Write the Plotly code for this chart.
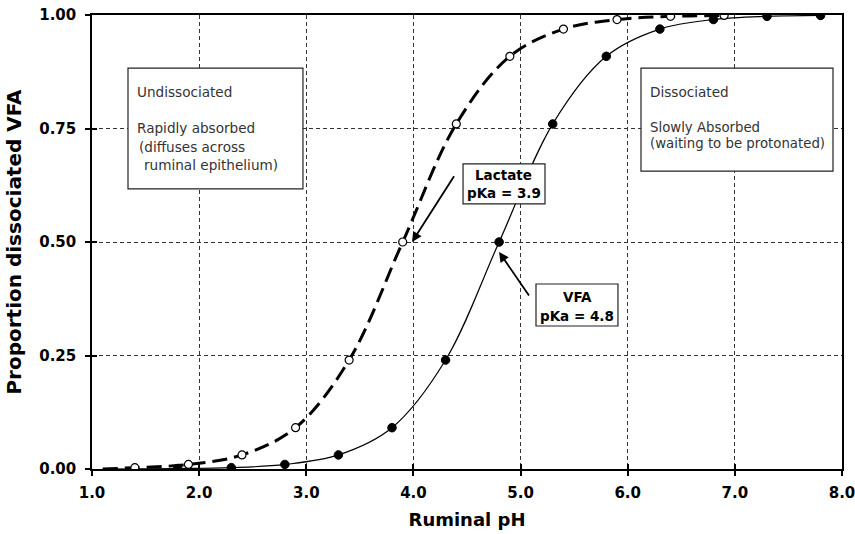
import plotly.graph_objects as go

# ---- data ----
vfa_ph = [1.8, 2.3, 2.8, 3.3, 3.8, 4.3, 4.8, 5.3, 5.8, 6.3, 6.8, 7.3, 7.8]
vfa_prop = [0.001, 0.003, 0.010, 0.031, 0.091, 0.24, 0.50, 0.76, 0.909, 0.969, 0.99, 0.997, 0.999]

lactate_ph = [1.4, 1.9, 2.4, 2.9, 3.4, 3.9, 4.4, 4.9, 5.4, 5.9, 6.4, 6.9]
lactate_prop = [0.003, 0.010, 0.031, 0.091, 0.24, 0.50, 0.76, 0.909, 0.969, 0.99, 0.997, 0.999]

# curve start points (lines begin left of the first marker)
vfa_line_ph = [1.1] + vfa_ph
vfa_line_prop = [0.0] + vfa_prop
lactate_line_ph = [1.1] + lactate_ph
lactate_line_prop = [0.0] + lactate_prop

x_ticks = [1.0, 2.0, 3.0, 4.0, 5.0, 6.0, 7.0, 8.0]
x_tick_labels = ["1.0", "2.0", "3.0", "4.0", "5.0", "6.0", "7.0", "8.0"]
y_ticks = [0.0, 0.25, 0.5, 0.75, 1.0]
y_tick_labels = ["0.00", "0.25", "0.50", "0.75", "1.00"]

FONT = "DejaVu Sans"

fig = go.Figure()

fig.add_trace(go.Scatter(x=lactate_line_ph, y=lactate_line_prop, mode="lines",
                         line=dict(color="black", width=3, dash="15px,7px", shape="spline", smoothing=1.0),
                         hoverinfo="skip", showlegend=False))
fig.add_trace(go.Scatter(x=vfa_line_ph, y=vfa_line_prop, mode="lines",
                         line=dict(color="black", width=1.2, shape="spline", smoothing=1.0),
                         hoverinfo="skip", showlegend=False))
fig.add_trace(go.Scatter(x=lactate_ph, y=lactate_prop, mode="markers", name="Lactate",
                         marker=dict(symbol="circle", size=8, color="white",
                                     line=dict(color="black", width=1.2)),
                         showlegend=False))
fig.add_trace(go.Scatter(x=vfa_ph, y=vfa_prop, mode="markers", name="VFA",
                         marker=dict(symbol="circle", size=8.5, color="black",
                                     line=dict(color="black", width=1)),
                         showlegend=False))
# empty trace to anchor overlay axes (inside tick marks)
fig.add_trace(go.Scatter(x=[], y=[], xaxis="x2", yaxis="y2", showlegend=False, hoverinfo="skip"))

# ---- boxes ----
box_style = dict(type="rect", xref="x", yref="y", layer="above",
                 fillcolor="white", line=dict(color="#222", width=1.2))
fig.add_shape(x0=1.336, x1=2.969, y0=0.617, y1=0.883, **box_style)
fig.add_shape(x0=6.124, x1=7.916, y0=0.656, y1=0.883, **box_style)
fig.add_shape(x0=4.463, x1=5.228, y0=0.584, y1=0.672, **box_style)
fig.add_shape(x0=5.144, x1=5.909, y0=0.315, y1=0.4075, **box_style)

txt = dict(family=FONT, size=13.6, color="#333")
def left_text(x, y, s, size=13.6):
    fig.add_annotation(x=x, y=y, xref="x", yref="y", text=s, showarrow=False,
                       xanchor="left", yanchor="middle", font=dict(txt, size=size))

left_text(1.401, 0.830, "Undissociated")
left_text(1.401, 0.751, "Rapidly absorbed")
left_text(1.418, 0.709, "(diffuses across")
left_text(1.465, 0.670, "ruminal epithelium)")
left_text(6.189, 0.830, "Dissociated")
left_text(6.189, 0.753, "Slowly Absorbed", 13.3)
left_text(6.189, 0.717, "(waiting to be protonated)", 13.3)

btxt = dict(family=FONT, size=13.5, color="black")
def center_text(x, y, s):
    fig.add_annotation(x=x, y=y, xref="x", yref="y", text="<b>" + s + "</b>", showarrow=False,
                       xanchor="center", yanchor="middle", font=btxt)

center_text(4.845, 0.648, "Lactate")
center_text(4.845, 0.608, "pKa = 3.9")
center_text(5.527, 0.379, "VFA")
center_text(5.527, 0.337, "pKa = 4.8")

# ---- arrows ----
arrow = dict(xref="x", yref="y", axref="x", ayref="y", text="", showarrow=True,
             arrowhead=2, arrowsize=1.1, arrowwidth=1.8, arrowcolor="black")
fig.add_annotation(x=3.987, y=0.500, ax=4.388, ay=0.648, **arrow)
fig.add_annotation(x=4.799, y=0.478, ax=5.088, ay=0.379, **arrow)

tickfont = dict(family=FONT, size=15, color="black", weight="bold")

fig.update_layout(
    width=855, height=534,
    margin=dict(l=92, r=13, t=15, b=65, autoexpand=False),
    paper_bgcolor="white", plot_bgcolor="white",
    showlegend=False,
    xaxis=dict(range=[1, 8], tickvals=x_ticks, ticktext=x_tick_labels, automargin=False,
               ticklabeloverflow="allow",
               showline=True, linecolor="black", linewidth=1.5, mirror=True,
               ticks="outside", ticklen=5, tickwidth=1.5, tickcolor="black",
               showgrid=True, gridcolor="#333", gridwidth=1, griddash="4px,3px",
               zeroline=False, tickfont=tickfont, ticklabelstandoff=4,
               title=dict(text="<b>Ruminal pH</b>", font=dict(family=FONT, size=18, color="black"),
                          standoff=13)),
    yaxis=dict(range=[0, 1], tickvals=y_ticks, ticktext=y_tick_labels, automargin=False,
               ticklabeloverflow="allow",
               showline=True, linecolor="black", linewidth=1.5, mirror=True,
               ticks="outside", ticklen=5, tickwidth=1.5, tickcolor="black",
               showgrid=True, gridcolor="#333", gridwidth=1, griddash="4px,3px",
               zeroline=False, tickfont=tickfont, ticklabelstandoff=6,
               title=dict(text="<b>Proportion dissociated VFA</b>",
                          font=dict(family=FONT, size=20, color="black"), standoff=12)),
    xaxis2=dict(range=[1, 8], tickvals=x_ticks, overlaying="x", side="bottom", automargin=False,
                ticks="inside", ticklen=5, tickwidth=1.5, tickcolor="black",
                showticklabels=False, showgrid=False, showline=False, zeroline=False),
    yaxis2=dict(range=[0, 1], tickvals=y_ticks, overlaying="y", side="left", automargin=False,
                ticks="inside", ticklen=5, tickwidth=1.5, tickcolor="black",
                showticklabels=False, showgrid=False, showline=False, zeroline=False),
)

fig.write_html("out.html")
